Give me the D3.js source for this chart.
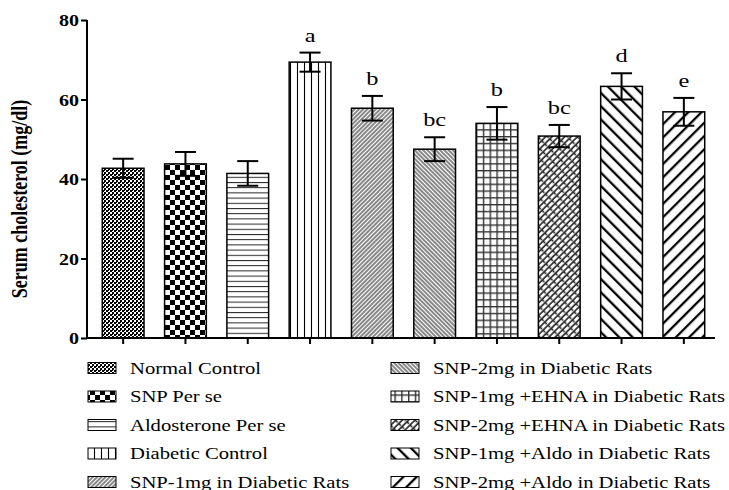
<!DOCTYPE html>
<html>
<head>
<meta charset="utf-8">
<script src="https://cdn.jsdelivr.net/npm/d3@7"></script>
<style>
  html, body { margin: 0; padding: 0; background: #fff; }
  svg { display: block; }
  text { font-family: "Liberation Serif", "Times New Roman", serif; fill: #000; }
</style>
</head>
<body>
<svg id="chart" width="729" height="490"></svg>
<script>
const categories = [
  "Normal Control",
  "SNP Per se",
  "Aldosterone Per se",
  "Diabetic Control",
  "SNP-1mg in Diabetic Rats",
  "SNP-2mg in Diabetic Rats",
  "SNP-1mg +EHNA in Diabetic Rats",
  "SNP-2mg +EHNA in Diabetic Rats",
  "SNP-1mg +Aldo in Diabetic Rats",
  "SNP-2mg +Aldo in Diabetic Rats"
];
const means = [42.7, 43.8, 41.4, 69.4, 57.8, 47.5, 54.0, 50.8, 63.3, 56.9];
const sems  = [2.4, 3.0, 3.1, 2.4, 3.1, 3.0, 4.1, 2.8, 3.3, 3.5];
const sigLetters = ["", "", "", "a", "b", "bc", "b", "bc", "d", "e"];
const yTicks = [0, 20, 40, 60, 80];
const yLabel = "Serum cholesterol (mg/dl)";

const SX = 1.25; // horizontal text stretch of the original image
const svg = d3.select("#chart");
const defs = svg.append("defs");

function pat(id, w, h, transform) {
  const p = defs.append("pattern").attr("id", id)
    .attr("patternUnits", "userSpaceOnUse").attr("width", w).attr("height", h);
  if (transform) p.attr("patternTransform", transform);
  p.append("rect").attr("width", w).attr("height", h).attr("fill", "#fff");
  return p;
}
// 1 fine checker
{ const p = pat("p0", 4, 4);
  p.append("rect").attr("x",0).attr("y",0).attr("width",2).attr("height",2).attr("fill","#000");
  p.append("rect").attr("x",2).attr("y",2).attr("width",2).attr("height",2).attr("fill","#000");
  p.append("rect").attr("x",0).attr("y",2).attr("width",1).attr("height",1).attr("fill","#000"); }
// 2 coarse checker
{ const p = pat("p1", 10, 10);
  p.append("rect").attr("x",0).attr("y",0).attr("width",5).attr("height",5).attr("fill","#000");
  p.append("rect").attr("x",5).attr("y",5).attr("width",5).attr("height",5).attr("fill","#000"); }
// 3 horizontal lines
{ const p = pat("p2", 6, 5.2);
  p.append("line").attr("x1",0).attr("x2",6).attr("y1",0.5).attr("y2",0.5).attr("stroke","#222").attr("stroke-width",1); }
// 4 vertical lines
{ const p = pat("p3", 7, 6);
  p.append("line").attr("x1",3.5).attr("x2",3.5).attr("y1",0).attr("y2",6).attr("stroke","#000").attr("stroke-width",1.1); }
// 5 dense "/" lines
{ const p = pat("p4", 3, 3, "rotate(45)");
  p.append("line").attr("x1",1).attr("x2",1).attr("y1",0).attr("y2",3).attr("stroke","#111").attr("stroke-width",1.0); }
// 6 dense "\" lines
{ const p = pat("p5", 3, 3, "rotate(-45)");
  p.append("line").attr("x1",1).attr("x2",1).attr("y1",0).attr("y2",3).attr("stroke","#111").attr("stroke-width",1.0); }
// 7 grid
{ const p = pat("p6", 6.8, 6.8);
  p.append("line").attr("x1",0.7).attr("x2",0.7).attr("y1",0).attr("y2",6.8).attr("stroke","#333").attr("stroke-width",1.4);
  p.append("line").attr("x1",0).attr("x2",6.8).attr("y1",0.7).attr("y2",0.7).attr("stroke","#333").attr("stroke-width",1.4); }
// 8 zigzag hatch
{ const p = pat("p7", 4.5, 7, "rotate(45)");
  p.append("line").attr("x1",1).attr("x2",1).attr("y1",0).attr("y2",7).attr("stroke","#222").attr("stroke-width",1.6);
  p.append("line").attr("x1",1).attr("x2",4).attr("y1",3.5).attr("y2",3.5).attr("stroke","#222").attr("stroke-width",1.6); }
// 9 thick "\" lines
{ const p = pat("p8", 9.4, 9.4, "rotate(-45)");
  p.append("line").attr("x1",2).attr("x2",2).attr("y1",0).attr("y2",9.4).attr("stroke","#000").attr("stroke-width",2.3); }
// 10 thick "/" lines
{ const p = pat("p9", 9.4, 9.4, "rotate(45)");
  p.append("line").attr("x1",2).attr("x2",2).attr("y1",0).attr("y2",9.4).attr("stroke","#000").attr("stroke-width",2.3); }

const fillOf = i => `url(#p${i})`;

const x = d3.scaleBand().domain(categories).range([92, 715])
  .paddingInner(0.33).paddingOuter(0.165);
const y = d3.scaleLinear().domain([0, 80]).range([338, 20]);

// bars
svg.append("g").selectAll("rect").data(categories).join("rect")
  .attr("x", d => x(d)).attr("width", x.bandwidth())
  .attr("y", (d, i) => y(means[i]))
  .attr("height", (d, i) => y(0) - y(means[i]))
  .attr("fill", (d, i) => fillOf(i))
  .attr("stroke", "#000").attr("stroke-width", 1.5);

// error bars
const eb = svg.append("g").attr("stroke", "#000").attr("stroke-width", 2);
categories.forEach((c, i) => {
  const cx = x(c) + x.bandwidth() / 2;
  const hi = y(means[i] + sems[i]), lo = y(means[i] - sems[i]);
  eb.append("line").attr("x1", cx).attr("x2", cx).attr("y1", hi).attr("y2", lo);
  eb.append("line").attr("x1", cx - 10.5).attr("x2", cx + 10.5).attr("y1", hi).attr("y2", hi);
  eb.append("line").attr("x1", cx - 10.5).attr("x2", cx + 10.5).attr("y1", lo).attr("y2", lo);
});

// significance letters
svg.append("g").selectAll("text").data(categories).join("text")
  .attr("transform", (d, i) => `translate(${x(d) + x.bandwidth() / 2},${y(means[i] + sems[i]) - 11}) scale(${SX},1)`)
  .attr("text-anchor", "middle").style("font-size", "19.5px")
  .text((d, i) => sigLetters[i]);

// y axis
const yAxis = svg.append("g").attr("transform", "translate(87,0)")
  .call(d3.axisLeft(y).tickValues(yTicks).tickSize(6).tickPadding(2).tickFormat(d3.format("d")));
yAxis.select(".domain").attr("stroke-width", 2).attr("d", `M0,${y(80)}V${y(0)}`);
yAxis.selectAll(".tick line").attr("stroke-width", 2);
yAxis.selectAll(".tick text")
  .attr("x", null).attr("dy", null)
  .attr("transform", `translate(-8,5.5) scale(${SX},1)`)
  .style("font-family", "'Liberation Serif', serif")
  .style("font-size", "16px").style("font-weight", "bold");

// x axis
const xAxis = svg.append("g").attr("transform", `translate(0,${y(0)})`)
  .call(d3.axisBottom(x).tickSize(6).tickFormat(""));
xAxis.select(".domain").attr("stroke-width", 2).attr("d", "M86,0H715");
xAxis.selectAll(".tick line").attr("stroke-width", 2);

// y label
svg.append("text")
  .attr("transform", `translate(27,199) scale(${SX},1) rotate(-90)`)
  .attr("text-anchor", "middle")
  .style("font-size", "18px").style("font-weight", "bold")
  .text(yLabel);

// legend
const leg = svg.append("g");
categories.forEach((c, i) => {
  const col = Math.floor(i / 5), row = i % 5;
  const sx = col === 0 ? 88 : 391;
  const tx = col === 0 ? 130 : 433;
  const cy = 368 + row * 28.5;
  leg.append("rect").attr("x", sx).attr("y", cy - 5.5).attr("width", 28).attr("height", 11)
    .attr("fill", fillOf(i)).attr("stroke", "#000").attr("stroke-width", 1);
  leg.append("text").attr("transform", `translate(${tx},${cy + 5.5}) scale(${SX},1)`)
    .style("font-size", "16.5px").text(c);
});
</script>
</body>
</html>
